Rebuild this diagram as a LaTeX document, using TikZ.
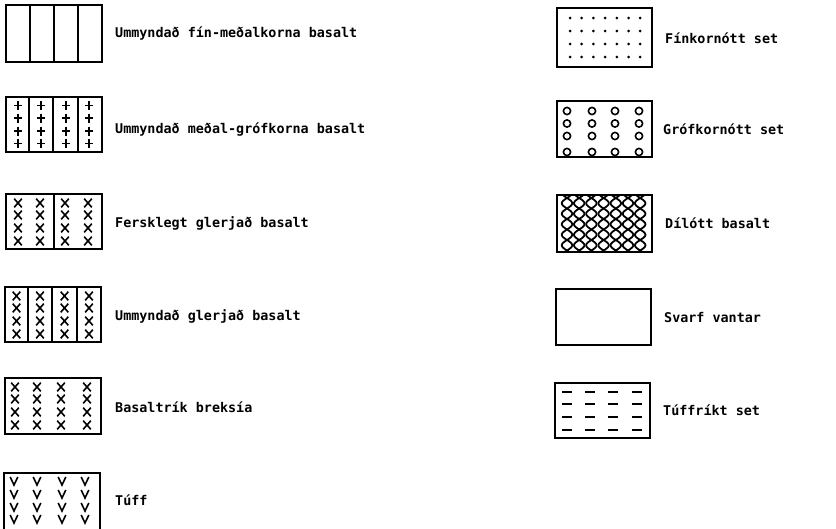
\documentclass[tikz,border=0pt]{standalone}
\usepackage{fontspec}
\setmonofont{DejaVu Sans Mono}
\newcommand\plussym[2]{\draw[sym] ({#1-4},{#2})--({#1+4},{#2}) ({#1},{#2-4.5})--({#1},{#2+4.5});}
\newcommand\xsym[2]{\draw[sym] ({#1-3.8},{#2-4.3})--({#1+3.8},{#2+4.3}) ({#1-3.8},{#2+4.3})--({#1+3.8},{#2-4.3});}
\newcommand\vsym[2]{\draw[sym] ({#1-3.8},{#2-4})--({#1},{#2+4})--({#1+3.8},{#2-4});}
\begin{document}
\begin{tikzpicture}[x=1pt,y=-1pt,
  legbox/.style={draw,line width=1.7pt},
  sym/.style={line width=1.6pt},
  lab/.style={anchor=base west,inner sep=0pt,font=\ttfamily\bfseries\fontsize{13.4}{15}\selectfont}]
\useasboundingbox[fill=white] (0,0) rectangle (836,528);

% ---- left column ----
% 1 Ummyndad fin-medalkorna basalt
\draw[legbox] (6,5) rectangle (102,62);
\foreach \x in {30,54,78} \draw[legbox] (\x,5)--(\x,62);
\node[lab] (t1) at (115,37) {Ummyndað fín-meðalkorna basalt};

% 2 Ummyndad medal-grofkorna basalt
\draw[legbox] (6,97) rectangle (102,152);
\foreach \x in {29,53,78} \draw[legbox] (\x,97)--(\x,152);
\foreach \x in {18,41,66,89}
  \foreach \y in {105.5,118,131,143.5} {\plussym{\x}{\y}}
\node[lab] (t2) at (115,133) {Ummyndað meðal-grófkorna basalt};

% 3 Fersklegt glerjad basalt
\draw[legbox] (6,194) rectangle (102,249);
\draw[legbox] (54,194)--(54,249);
\foreach \x in {18,40,65,88}
  \foreach \y in {203,215,228,241} {\xsym{\x}{\y}}
\node[lab] (t3) at (115,227) {Fersklegt glerjað basalt};

% 4 Ummyndad glerjad basalt
\draw[legbox] (5,287) rectangle (101,342);
\foreach \x in {28,52,77} \draw[legbox] (\x,287)--(\x,342);
\foreach \x in {16.5,40,64.5,89}
  \foreach \y in {296,308,321,334} {\xsym{\x}{\y}}
\node[lab] (t4) at (115,320) {Ummyndað glerjað basalt};

% 5 Basaltrik breksia
\draw[legbox] (5,378) rectangle (101,434);
\foreach \x in {15,37,61,87}
  \foreach \y in {387,399,412,425} {\xsym{\x}{\y}}
\node[lab] (t5) at (115,412) {Basaltrík breksía};

% 6 Tuff
\draw[legbox] (4,529) -- (4,473) -- (100,473) -- (100,529);
\foreach \x in {14,37,62,85}
  \foreach \y in {481,494,507,519} {\vsym{\x}{\y}}
\node[lab] (t6) at (115,505) {Túff};

% ---- right column ----
% 1 Finkornott set
\draw[legbox] (557,8) rectangle (652,67);
\foreach \i in {0,...,6}
  \foreach \y in {18,31,44,57} {\fill ({570+11.7*\i},\y) circle (1.5);}
\node[lab] (r1) at (665,43) {Fínkornótt set};

% 2 Grofkornott set
\begin{scope}
\clip (557,101) rectangle (652,157);
\foreach \x in {567,592,615,639}
  \foreach \y in {111,123.5,136,152} {\draw[sym] (\x,\y) circle (3.6);}
\end{scope}
\draw[legbox] (557,101) rectangle (652,157);
\node[lab] (r2) at (663,134) {Grófkornótt set};

% 3 Dilott basalt
\begin{scope}
\clip (557,195) rectangle (652,252);
\foreach \k in {0,...,6} {
  \draw[line width=1.8pt,domain=192:254,samples=90,variable=\t]
    plot ({567+12.2*\k+5.2*sin(17.142857*(\t-198))},\t);
  \draw[line width=1.8pt,domain=192:254,samples=90,variable=\t]
    plot ({567+12.2*\k-5.2*sin(17.142857*(\t-198))},\t);
}
\end{scope}
\draw[legbox] (557,195) rectangle (652,252);
\node[lab] (r3) at (665,228) {Dílótt basalt};

% 4 Svarf vantar
\draw[legbox] (556,289) rectangle (651,345);
\node[lab] (r4) at (664,322) {Svarf vantar};

% 5 Tuffrikt set
\draw[legbox] (555,383) rectangle (650,438);
\foreach \x in {567,590,613,637}
  \foreach \y in {392,404,417,430} {\draw[line width=1.9pt] ({\x-5},\y)--({\x+5},\y);}
\node[lab] (r5) at (663,415) {Túffríkt set};
\end{tikzpicture}
\end{document}
